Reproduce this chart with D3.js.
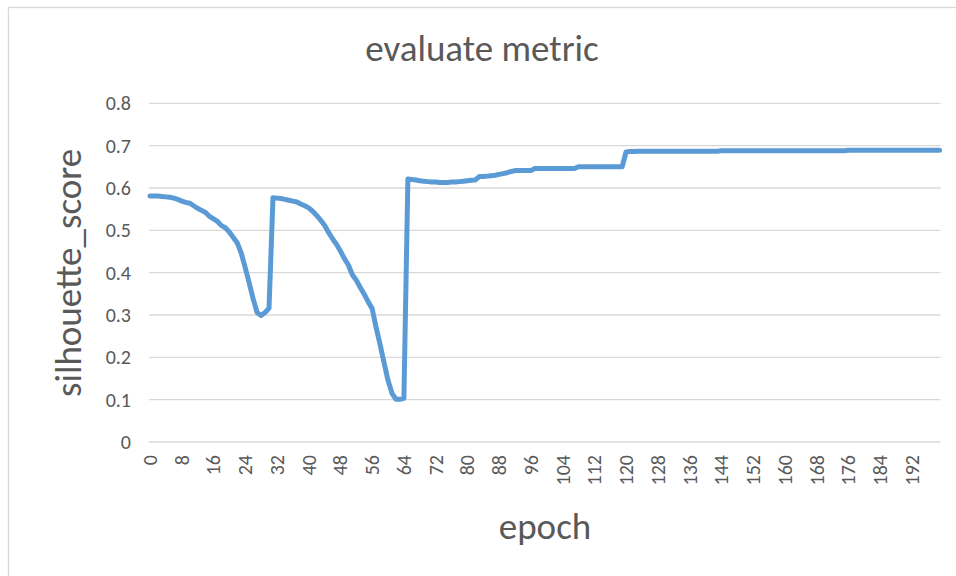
<!DOCTYPE html>
<html>
<head>
<meta charset="utf-8">
<script src="https://cdn.jsdelivr.net/npm/d3@7"></script>
<style>
  body { margin: 0; background: #fff; }
  svg { display: block; }
  text { font-family: Calibri, Carlito, Lato, sans-serif; fill: #595959; }
</style>
</head>
<body>
<div id="chart"></div>
<script>
// silhouette_score per epoch
// epochs 0-30 : first decline
const phase1 = [0.581, 0.581, 0.581, 0.580, 0.579, 0.578, 0.576, 0.573, 0.569, 0.566,
  0.564, 0.558, 0.552, 0.547, 0.542, 0.533, 0.527, 0.521, 0.511, 0.506,
  0.496, 0.483, 0.470, 0.446, 0.412, 0.376, 0.338, 0.306, 0.299, 0.306,
  0.316];
// epochs 31-64 : second decline
const phase2 = [0.577, 0.576, 0.575, 0.573, 0.571, 0.569, 0.567, 0.562, 0.558, 0.553,
  0.545, 0.535, 0.524, 0.512, 0.495, 0.480, 0.467, 0.451, 0.433, 0.418,
  0.395, 0.382, 0.365, 0.349, 0.331, 0.315, 0.270, 0.230, 0.187, 0.145,
  0.115, 0.101, 0.101, 0.103];
// epochs 65-119 : slow climb
const phase3 = [0.621, 0.620, 0.619, 0.617, 0.616, 0.615, 0.614, 0.614, 0.613, 0.613,
  0.613, 0.614, 0.614, 0.615, 0.616, 0.617, 0.618, 0.619, 0.627, 0.627,
  0.628, 0.629, 0.630, 0.632, 0.634, 0.636, 0.639, 0.641, 0.641, 0.641,
  0.641, 0.641, 0.646, 0.646, 0.646, 0.646, 0.646, 0.646, 0.646, 0.646,
  0.646, 0.646, 0.646, 0.650, 0.650, 0.650, 0.650, 0.650, 0.650, 0.650,
  0.650, 0.650, 0.650, 0.650, 0.650];
// epochs 120-199 : plateau
const phase4 = [0.685, 0.686, 0.686, 0.687, 0.687, 0.687, 0.687, 0.687, 0.687, 0.687,
  0.687, 0.687, 0.687, 0.687, 0.687, 0.687, 0.687, 0.687, 0.687, 0.687,
  0.687, 0.687, 0.687, 0.687, 0.688, 0.688, 0.688, 0.688, 0.688, 0.688,
  0.688, 0.688, 0.688, 0.688, 0.688, 0.688, 0.688, 0.688, 0.688, 0.688,
  0.688, 0.688, 0.688, 0.688, 0.688, 0.688, 0.688, 0.688, 0.688, 0.688,
  0.688, 0.688, 0.688, 0.688, 0.688, 0.688, 0.689, 0.689, 0.689, 0.689,
  0.689, 0.689, 0.689, 0.689, 0.689, 0.689, 0.689, 0.689, 0.689, 0.689,
  0.689, 0.689, 0.689, 0.689, 0.689, 0.689, 0.689, 0.689, 0.689, 0.689];

const yTicks = [0, 0.1, 0.2, 0.3, 0.4, 0.5, 0.6, 0.7, 0.8];
const xLabelStep = 8; // every 8th epoch gets a label

const scores = phase1.concat(phase2, phase3, phase4);
const epochs = scores.map((d, i) => i);

const width = 956;
const height = 576;

const svg = d3.select('#chart')
  .append('svg')
  .attr('width', width)
  .attr('height', height);

// outer chart frame (runs off the right/bottom edge like the screenshot)
svg.append('rect')
  .attr('x', 8.5).attr('y', 7.5)
  .attr('width', 1200).attr('height', 1200)
  .attr('fill', 'none')
  .attr('stroke', '#d9d9d9')
  .attr('stroke-width', 1.3);

const x = d3.scalePoint().domain(epochs).range([150, 939.5]);
const y = d3.scaleLinear().domain([0, 0.8]).range([442, 103.3]);

// gridlines
svg.append('g')
  .selectAll('line')
  .data(yTicks)
  .enter()
  .append('line')
  .attr('x1', x(epochs[0]) - 1)
  .attr('x2', x(epochs[epochs.length - 1]) + 1)
  .attr('y1', d => y(d))
  .attr('y2', d => y(d))
  .attr('stroke', '#d9d9d9')
  .attr('stroke-width', 1.3);

// y tick labels
svg.append('g')
  .selectAll('text')
  .data(yTicks)
  .enter()
  .append('text')
  .attr('x', 131)
  .attr('y', d => y(d))
  .attr('dy', '0.35em')
  .attr('text-anchor', 'end')
  .attr('font-size', 20)
  .text(d => d === 0 ? '0' : d3.format('.1f')(d));

// x tick labels, rotated
svg.append('g')
  .selectAll('text')
  .data(epochs.filter(e => e % xLabelStep === 0))
  .enter()
  .append('text')
  .attr('transform', d => `translate(${x(d)},455) rotate(-90)`)
  .attr('dy', '0.35em')
  .attr('text-anchor', 'end')
  .attr('font-size', 20)
  .text(d => d);

// the line
const line = d3.line()
  .x((d, i) => x(epochs[i]))
  .y(d => y(d));

svg.append('path')
  .datum(scores)
  .attr('d', line)
  .attr('fill', 'none')
  .attr('stroke', '#5b9bd5')
  .attr('stroke-width', 5)
  .attr('stroke-linejoin', 'round')
  .attr('stroke-linecap', 'round');

// titles
svg.append('text')
  .attr('x', 482)
  .attr('y', 61)
  .attr('text-anchor', 'middle')
  .attr('font-size', 37)
  .text('evaluate metric');

svg.append('text')
  .attr('transform', 'translate(81,273) rotate(-90)')
  .attr('text-anchor', 'middle')
  .attr('font-size', 37)
  .text('silhouette_score');

svg.append('text')
  .attr('x', 545)
  .attr('y', 539)
  .attr('text-anchor', 'middle')
  .attr('font-size', 37)
  .text('epoch');
</script>
</body>
</html>
